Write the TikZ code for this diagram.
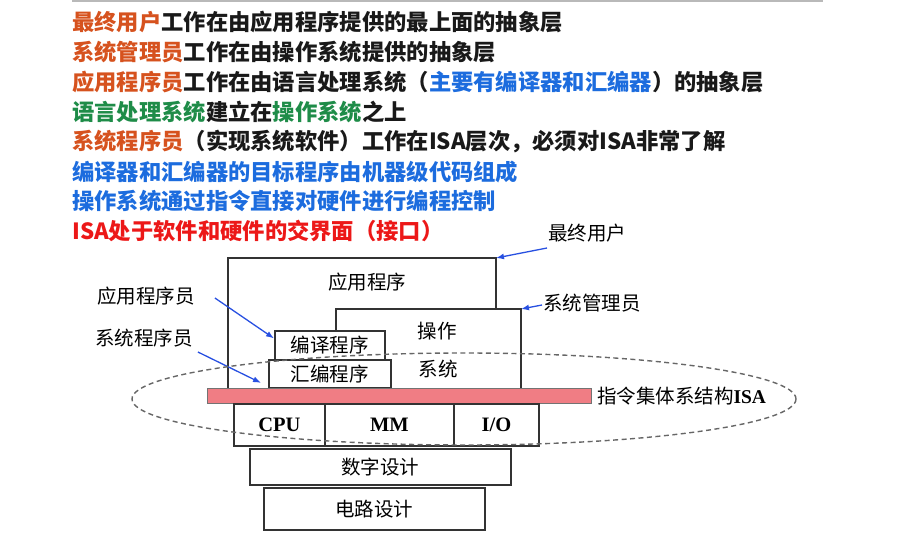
\documentclass[tikz,border=0pt]{standalone}
\usepackage{fontspec}
\setmainfont{Liberation Serif}
\newfontfamily\hei{Noto Sans CJK SC}
\usetikzlibrary{arrows.meta,positioning}

\definecolor{keyorange}{RGB}{214,82,30}
\definecolor{keyblue}{RGB}{28,108,222}
\definecolor{keygreen}{RGB}{30,140,72}
\definecolor{keyred}{RGB}{236,24,24}
\definecolor{ptrblue}{RGB}{40,80,225}
\definecolor{isapink}{RGB}{240,125,132}

\newcommand{\notefont}{\hei\bfseries\fontsize{22.3}{26}\selectfont}
\newcommand{\diagfont}{\hei\fontsize{19.5}{23}\selectfont}

\begin{document}
\begin{tikzpicture}[x=1pt,y=-1pt,
    note/.style={anchor=west, inner sep=0pt, font=\notefont, text=black!90},
    line/.style={draw=black!80, line width=1.8pt},
    layer/.style={line, fill=white, inner sep=0pt, anchor=north west, font=\diagfont},
    tag/.style={inner sep=0pt, font=\diagfont},
    hw/.style={font=\bfseries\fontsize{20.5}{24}\selectfont},
    ptr/.style={-{Latex[length=8pt,width=6pt]}, draw=ptrblue, line width=1.3pt}]
    \useasboundingbox (0,0) rectangle (917,540);

    % Top rule
    \draw[gray!55, line width=1.5pt] (72,1) -- (823,1);

    % Notes
    \node[note] (n1) at (72,22) {\textcolor{keyorange}{最终用户}工作在由应用程序提供的最上面的抽象层};
    \node[note] (n2) at (72,52) {\textcolor{keyorange}{系统管理员}工作在由操作系统提供的抽象层};
    \node[note] (n3) at (72,82) {\textcolor{keyorange}{应用程序员}工作在由语言处理系统（\textcolor{keyblue}{主要有编译器和汇编器}）的抽象层};
    \node[note] (n4) at (72,112) {\textcolor{keygreen}{语言处理系统}建立在\textcolor{keygreen}{操作系统}之上};
    \node[note] (n5) at (72,142) {\textcolor{keyorange}{系统程序员}（实现系统软件）工作在ISA层次，必须对ISA非常了解};
    \node[note, text=keyblue] (n6) at (72,172) {编译器和汇编器的目标程序由机器级代码组成};
    \node[note, text=keyblue] (n7) at (72,201) {操作系统通过指令直接对硬件进行编程控制};
    \node[note, text=keyred] (n8) at (72,231) {ISA处于软件和硬件的交界面（接口）};

    % Software layers
    \draw[line] (228,388) -- (228,258) -- (496,258) -- (496,309);
    \draw[line] (336,330) -- (336,309) -- (521,309) -- (521,388);
    \coordinate (apptr) at (496,258);
    \coordinate (ostr) at (521,309);
    \node[tag] (app) at (367,282) {应用程序};
    \node[tag] (os1) at (437,331) {操作};
    \node[tag] (os2) at (438,369) {系统};
    \node[layer, minimum width=110pt, minimum height=29pt] (comp) at (274,330) {编译程序};
    \node[layer, minimum width=122pt, minimum height=28pt] (asm) at (268,359) {汇编程序};

    % ISA
    \node[draw=black!55, line width=0.8pt, fill=isapink, anchor=north west,
          minimum width=384pt, minimum height=15pt, inner sep=0pt] (isa) at (207,388) {};
    \node[tag, anchor=west, right=5pt of isa.east] (isalbl) {指令集体系结构\textrm{\bfseries ISA}};

    % Hardware layers
    \node[layer, minimum width=91pt, minimum height=42pt, hw] (cpu) at (233,403) {CPU};
    \node[layer, minimum width=129pt, minimum height=42pt, hw] (mm) at (324,403) {MM};
    \node[layer, minimum width=85pt, minimum height=42pt, hw] (io) at (453,403) {I/O};
    \node[layer, minimum width=261pt, minimum height=36pt] (digital) at (249,448) {数字设计};
    \node[layer, minimum width=221pt, minimum height=42pt] (circuit) at (263,487) {电路设计};

    % People
    \node[tag, anchor=west] (appdev) at (97,296) {应用程序员};
    \node[tag, anchor=west] (sysdev) at (95,338) {系统程序员};
    \node[tag, anchor=west] (enduser) at (548,233) {最终用户};
    \node[tag, anchor=west] (admin) at (543,303) {系统管理员};

    \draw[ptr] ([xshift=20pt,yshift=-2pt]appdev.east) -- ([yshift=7pt]comp.west);
    \draw[ptr] ([xshift=5pt,yshift=-14pt]sysdev.east) -- ([xshift=-7pt,yshift=-9pt]asm.west);
    \draw[ptr] ([xshift=-1pt,yshift=-15pt]enduser.west) -- (apptr);
    \draw[ptr] ([xshift=-1pt,yshift=-2pt]admin.west) -- (ostr);

    % Hardware/software interface
    \draw[black!60, line width=1.4pt, dash pattern=on 5pt off 3.5pt] (464,399) ellipse [x radius=332, y radius=46];
\end{tikzpicture}
\end{document}
